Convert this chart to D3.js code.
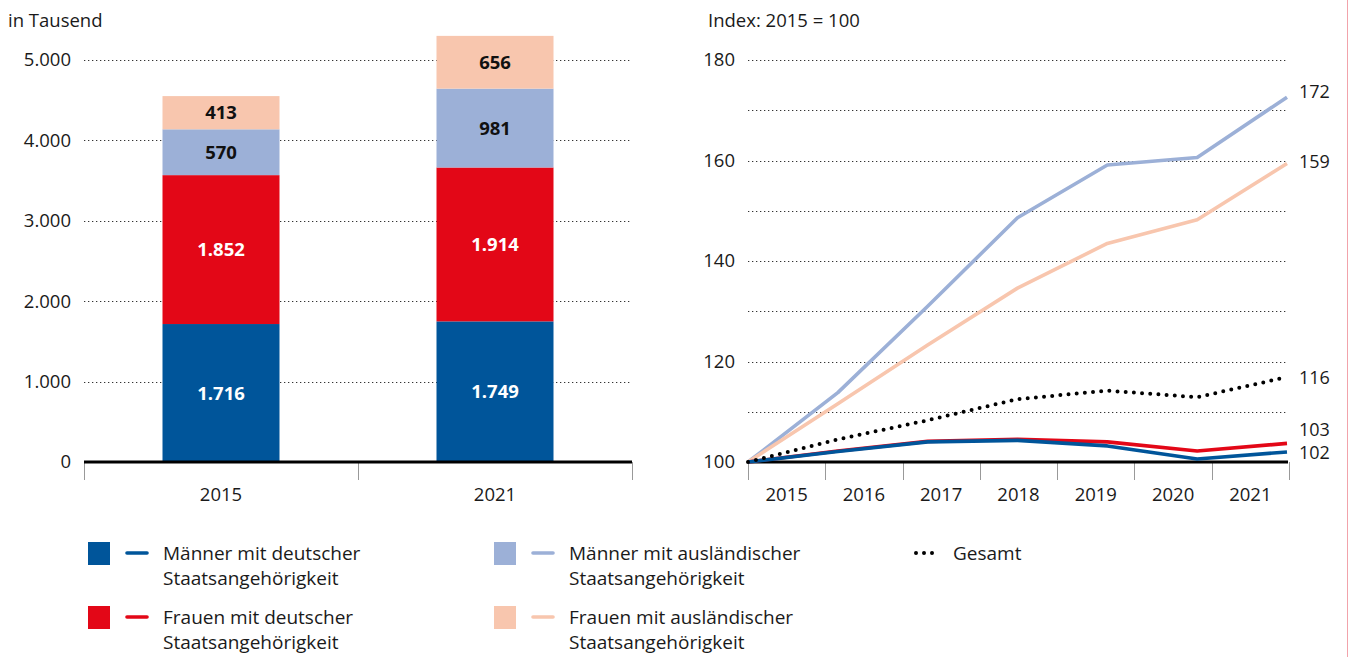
<!DOCTYPE html>
<html>
<head>
<meta charset="utf-8">
<script src="https://cdn.jsdelivr.net/npm/d3@7"></script>
<style>
  body { margin: 0; background: #fff; }
  svg text { font-family: "Open Sans", "Noto Sans", sans-serif; fill: #1a1a1a; }
</style>
</head>
<body>
<div id="chart"></div>
<script>
(function (d3) {
  'use strict';

// data - left chart (in Tausend)
const barYears = ["2015", "2021"];
const menDE = [1716, 1749];
const womenDE = [1852, 1914];
const menForeign = [570, 981];
const womenForeign = [413, 656];

// data - right chart (Index 2015 = 100)
const lineYears = ["2015", "2016", "2017", "2018", "2019", "2020", "2021"];
const idxMenDE = [100, 102.1, 104.0, 104.3, 103.2, 100.6, 102.0];
const idxWomenDE = [100, 102.2, 104.1, 104.5, 104.0, 102.2, 103.7];
const idxMenForeign = [100, 113.8, 131.0, 148.6, 159.1, 160.6, 172.6];
const idxWomenForeign = [100, 111.6, 123.3, 134.6, 143.5, 148.2, 159.4];
const idxTotal = [100, 104.5, 108.3, 112.5, 114.2, 112.9, 116.9];
const endLabels = ["172", "159", "116", "103", "102"];

const leftTicks = [0, 1000, 2000, 3000, 4000, 5000];
const rightTicks = [100, 120, 140, 160, 180];

const colors = {
  menDE: "#00559a",
  womenDE: "#e30717",
  menForeign: "#9cb0d7",
  womenForeign: "#f8c6ae"
};

const W = 1349, H = 657;
const axisFont = "18.5px";
const fmt = d3.formatLocale({decimal: ",", thousands: ".", grouping: [3], currency: ["", "€"]}).format(",d");

const svg = d3.select("#chart")
  .append("svg")
    .attr("width", W)
    .attr("height", H);

// pink frame line on the right edge
svg.append("line")
  .attr("x1", 1347.5).attr("x2", 1347.5)
  .attr("y1", 0).attr("y2", H)
  .attr("stroke", "#f2a3ab")
  .attr("stroke-width", 1);

// ---------- left: stacked bars ----------
const left = {x0: 84, x1: 632, y0: 462, y1: 60};

const x = d3.scaleBand()
  .domain(barYears)
  .range([left.x0, left.x1])
  .padding(0);

const y = d3.scaleLinear()
  .domain([0, 5000])
  .range([left.y0, left.y1]);

svg.append("text")
  .attr("x", 8).attr("y", 27)
  .style("font-size", axisFont)
  .text("in Tausend");

// grid
svg.append("g")
  .selectAll("line")
  .data(leftTicks.filter(d => d > 0))
  .join("line")
    .attr("x1", left.x0).attr("x2", left.x1)
    .attr("y1", d => Math.round(y(d)) + 0.5).attr("y2", d => Math.round(y(d)) + 0.5)
    .attr("stroke", "#333")
    .attr("stroke-width", 1.1)
    .attr("stroke-dasharray", "1.3 2.7");

// y labels
svg.append("g")
  .selectAll("text")
  .data(leftTicks)
  .join("text")
    .attr("x", 71)
    .attr("y", d => y(d))
    .attr("dy", "0.35em")
    .attr("text-anchor", "end")
    .style("font-size", axisFont)
    .text(d => fmt(d));

const keys = ["menDE", "womenDE", "menForeign", "womenForeign"];
const barData = barYears.map((yr, i) => ({
  year: yr, menDE: menDE[i], womenDE: womenDE[i],
  menForeign: menForeign[i], womenForeign: womenForeign[i]
}));
const stacked = d3.stack().keys(keys)(barData);
const barW = x.bandwidth() * 0.427;

const layers = svg.append("g")
  .selectAll("g")
  .data(stacked)
  .join("g")
    .attr("fill", d => colors[d.key]);

layers.selectAll("rect")
  .data(d => d)
  .join("rect")
    .attr("x", d => x(d.data.year) + (x.bandwidth() - barW) / 2)
    .attr("y", d => y(d[1]))
    .attr("width", barW)
    .attr("height", d => y(d[0]) - y(d[1]));

layers.selectAll("text")
  .data(d => d.map(v => ({key: d.key, v: v})))
  .join("text")
    .attr("x", d => x(d.v.data.year) + x.bandwidth() / 2)
    .attr("y", d => (y(d.v[0]) + y(d.v[1])) / 2)
    .attr("dy", "0.36em")
    .attr("text-anchor", "middle")
    .style("font-size", "18.5px")
    .style("font-weight", "bold")
    .style("fill", d => (d.key === "menDE" || d.key === "womenDE") ? "#fff" : "#111")
    .text(d => fmt(d.v[1] - d.v[0]));

// bottom ticks and labels
svg.append("g")
  .selectAll("line")
  .data([left.x0, left.x0 + x.step(), left.x1])
  .join("line")
    .attr("x1", d => d + 0.5).attr("x2", d => d + 0.5)
    .attr("y1", left.y0).attr("y2", left.y0 + 18)
    .attr("stroke", "#999").attr("stroke-width", 1);

svg.append("g")
  .selectAll("text")
  .data(barYears)
  .join("text")
    .attr("x", d => x(d) + x.bandwidth() / 2)
    .attr("y", 495)
    .attr("dy", "0.35em")
    .attr("text-anchor", "middle")
    .style("font-size", axisFont)
    .text(d => d);

svg.append("line")
  .attr("x1", left.x0).attr("x2", left.x1)
  .attr("y1", left.y0).attr("y2", left.y0)
  .attr("stroke", "#000").attr("stroke-width", 3);

// ---------- right: index lines ----------
const right = {x0: 748, x1: 1288, y0: 462, y1: 60};

const xb = d3.scaleBand()
  .domain(lineYears)
  .range([right.x0, right.x1 + 1])
  .padding(0);

const xl = d3.scalePoint()
  .domain(lineYears)
  .range([right.x0, right.x1 - 1]);

const yr = d3.scaleLinear()
  .domain([100, 180])
  .range([right.y0, right.y1]);

svg.append("text")
  .attr("x", 708).attr("y", 27)
  .style("font-size", axisFont)
  .text("Index: 2015 = 100");

svg.append("g")
  .selectAll("line")
  .data(d3.range(110, 181, 10))
  .join("line")
    .attr("x1", right.x0).attr("x2", right.x1)
    .attr("y1", d => Math.round(yr(d)) + 0.5).attr("y2", d => Math.round(yr(d)) + 0.5)
    .attr("stroke", "#333")
    .attr("stroke-width", 1.1)
    .attr("stroke-dasharray", "1.3 2.7");

svg.append("g")
  .selectAll("text")
  .data(rightTicks)
  .join("text")
    .attr("x", 735)
    .attr("y", d => yr(d))
    .attr("dy", "0.35em")
    .attr("text-anchor", "end")
    .style("font-size", axisFont)
    .text(d => d);

// x ticks
svg.append("g")
  .selectAll("line")
  .data(lineYears.map(d => xb(d)).concat([xb(lineYears[6]) + xb.bandwidth()]))
  .join("line")
    .attr("x1", d => Math.round(d) + 0.5).attr("x2", d => Math.round(d) + 0.5)
    .attr("y1", right.y0).attr("y2", right.y0 + 18)
    .attr("stroke", "#999").attr("stroke-width", 1);

svg.append("g")
  .selectAll("text")
  .data(lineYears)
  .join("text")
    .attr("x", d => xb(d) + xb.bandwidth() / 2)
    .attr("y", 495)
    .attr("dy", "0.35em")
    .attr("text-anchor", "middle")
    .style("font-size", axisFont)
    .text(d => d);

svg.append("line")
  .attr("x1", right.x0).attr("x2", right.x1)
  .attr("y1", right.y0).attr("y2", right.y0)
  .attr("stroke", "#000").attr("stroke-width", 3);

const line = d3.line()
  .x((d, i) => xl(lineYears[i]))
  .y(d => yr(d));

const series = [
  {key: "menForeign", values: idxMenForeign},
  {key: "womenForeign", values: idxWomenForeign},
  {key: "womenDE", values: idxWomenDE},
  {key: "menDE", values: idxMenDE}
];

svg.append("g")
  .selectAll("path")
  .data(series)
  .join("path")
    .attr("d", d => line(d.values))
    .attr("fill", "none")
    .attr("stroke", d => colors[d.key])
    .attr("stroke-width", 3.6)
    .attr("stroke-linejoin", "round");

svg.append("path")
  .attr("d", line(idxTotal))
  .attr("fill", "none")
  .attr("stroke", "#000")
  .attr("stroke-width", 4)
  .attr("stroke-linecap", "round")
  .attr("stroke-dasharray", "0 8.2");

// end labels
const endY = [92, 162, 378, 430, 453];
svg.append("g")
  .selectAll("text")
  .data(endLabels)
  .join("text")
    .attr("x", 1299)
    .attr("y", (d, i) => endY[i])
    .attr("dy", "0.35em")
    .style("font-size", "18px")
    .text(d => d);

// ---------- legend ----------
const legend = [
  {key: "menDE", col: 0, row: 0, l1: "Männer mit deutscher", l2: "Staatsangehörigkeit"},
  {key: "womenDE", col: 0, row: 1, l1: "Frauen mit deutscher", l2: "Staatsangehörigkeit"},
  {key: "menForeign", col: 1, row: 0, l1: "Männer mit ausländischer", l2: "Staatsangehörigkeit"},
  {key: "womenForeign", col: 1, row: 1, l1: "Frauen mit ausländischer", l2: "Staatsangehörigkeit"}
];
const colX = [88, 494];
const rowY = [553, 617];

const lg = svg.append("g")
  .selectAll("g")
  .data(legend)
  .join("g")
    .attr("transform", d => `translate(${colX[d.col]},${rowY[d.row]})`);

lg.append("rect")
  .attr("x", 0).attr("y", -11)
  .attr("width", 22).attr("height", 23)
  .attr("fill", d => colors[d.key]);

lg.append("line")
  .attr("x1", 39).attr("x2", 59)
  .attr("y1", 0).attr("y2", 0)
  .attr("stroke", d => colors[d.key])
  .attr("stroke-width", 3.6)
  .attr("stroke-linecap", "round");

lg.append("text")
  .attr("x", 75).attr("y", 0).attr("dy", "0.35em")
  .style("font-size", "19px")
  .text(d => d.l1);

lg.append("text")
  .attr("x", 75).attr("y", 25).attr("dy", "0.35em")
  .style("font-size", "19px")
  .text(d => d.l2);

const gs = svg.append("g").attr("transform", "translate(916,553)");
gs.append("line")
  .attr("x1", 0).attr("x2", 22)
  .attr("y1", 0).attr("y2", 0)
  .attr("stroke", "#000")
  .attr("stroke-width", 4)
  .attr("stroke-linecap", "round")
  .attr("stroke-dasharray", "0 8");
gs.append("text")
  .attr("x", 37).attr("y", 0).attr("dy", "0.35em")
  .style("font-size", "19px")
  .text("Gesamt");

}(d3));
</script>
</body>
</html>
